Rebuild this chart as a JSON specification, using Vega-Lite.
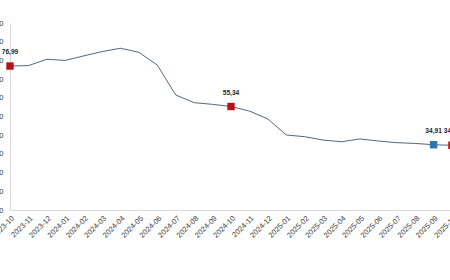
{
  "$schema": "https://vega.github.io/schema/vega-lite/v6.json",
  "autosize": "none",
  "width": 442,
  "height": 187,
  "padding": {"left": 10, "top": 23, "right": 0, "bottom": 70},
  "background": "white",
  "config": {"view": {"stroke": null}},
  "data": {
    "values": [
      {"month": "2023-10", "value": 76.99, "mark": "red", "label": "76,99"},
      {"month": "2023-11", "value": 77.2},
      {"month": "2023-12", "value": 80.6},
      {"month": "2024-01", "value": 80.0},
      {"month": "2024-02", "value": 82.4},
      {"month": "2024-03", "value": 84.7},
      {"month": "2024-04", "value": 86.5},
      {"month": "2024-05", "value": 84.3},
      {"month": "2024-06", "value": 77.5},
      {"month": "2024-07", "value": 61.5},
      {"month": "2024-08", "value": 57.4},
      {"month": "2024-09", "value": 56.5},
      {"month": "2024-10", "value": 55.34, "mark": "red", "label": "55,34"},
      {"month": "2024-11", "value": 52.9},
      {"month": "2024-12", "value": 48.7},
      {"month": "2025-01", "value": 40.1},
      {"month": "2025-02", "value": 39.2},
      {"month": "2025-03", "value": 37.4},
      {"month": "2025-04", "value": 36.5},
      {"month": "2025-05", "value": 38.0},
      {"month": "2025-06", "value": 36.9},
      {"month": "2025-07", "value": 36.0},
      {"month": "2025-08", "value": 35.6},
      {"month": "2025-09", "value": 34.91, "mark": "blue", "label": "34,91"},
      {"month": "2025-10", "value": 34.6, "mark": "red", "label": "34,60"}
    ]
  },
  "encoding": {
    "x": {
      "field": "month", "type": "ordinal",
      "scale": {"type": "point", "padding": 0},
      "axis": {
        "title": null, "labelAngle": -45, "labelFontSize": 7.5, "labelColor": "#404040",
        "labelFont": "Liberation Sans", "ticks": false, "domainColor": "#d9d9d9", "labelPadding": 4
      }
    },
    "y": {
      "field": "value", "type": "quantitative",
      "scale": {"domain": [0, 100], "nice": false},
      "axis": {
        "title": null, "values": [0, 10, 20, 30, 40, 50, 60, 70, 80, 90, 100], "grid": false,
        "ticks": false, "domainColor": "#d9d9d9", "labelFontSize": 7.5, "labelColor": "#404040",
        "labelFont": "Liberation Sans", "labelPadding": 7
      }
    }
  },
  "layer": [
    {"mark": {"type": "line", "color": "#52677f", "strokeWidth": 1}},
    {
      "transform": [{"filter": "datum.mark"}],
      "mark": {"type": "square", "size": 55, "opacity": 1, "filled": true},
      "encoding": {
        "color": {"field": "mark", "type": "nominal", "scale": {"domain": ["red", "blue"], "range": ["#b5121b", "#2e75b6"]}, "legend": null}
      }
    },
    {
      "transform": [{"filter": "datum.mark"}],
      "mark": {"type": "text", "dy": -14, "fontSize": 6.6, "fontWeight": "bold", "font": "Liberation Sans", "color": "#262626"},
      "encoding": {"text": {"field": "label"}}
    }
  ]
}
